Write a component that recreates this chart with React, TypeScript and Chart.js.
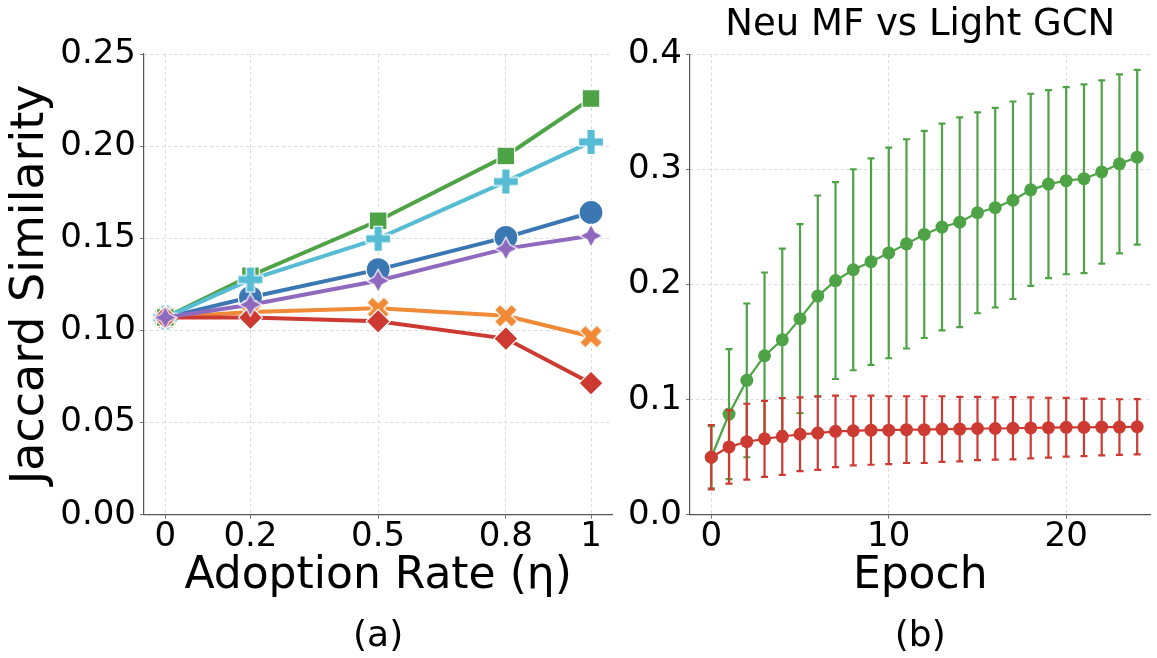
import React, { useEffect, useRef } from 'react';
import { Chart, registerables } from 'chart.js';

Chart.register(...registerables);

const FONT = "'DejaVu Sans', 'Liberation Sans', sans-serif";

// ---------------- Panel (a) data ----------------
const adoptionRates = [0, 0.2, 0.5, 0.8, 1];
const adoptionTickLabels = ['0', '0.2', '0.5', '0.8', '1'];
const seriesCircle = [0.107, 0.118, 0.133, 0.1505, 0.164];
const seriesX = [0.107, 0.11, 0.112, 0.108, 0.0967];
const seriesSquare = [0.107, 0.1297, 0.1595, 0.1947, 0.2258];
const seriesPlus = [0.107, 0.1276, 0.1498, 0.1808, 0.2023];
const seriesDiamond = [0.107, 0.107, 0.105, 0.0956, 0.0714];
const seriesStar = [0.107, 0.114, 0.127, 0.1444, 0.1514];
const leftYTicks = [0, 0.05, 0.1, 0.15, 0.2, 0.25];

// ---------------- Panel (b) data ----------------
const epochs = [0, 1, 2, 3, 4, 5, 6, 7, 8, 9, 10, 11, 12, 13, 14, 15, 16, 17, 18, 19, 20, 21, 22, 23, 24];
const greenMean = [0.05, 0.0875, 0.1168, 0.1382, 0.152, 0.1704, 0.19, 0.2035, 0.2129, 0.2199, 0.2275, 0.2354, 0.2436, 0.25, 0.2542, 0.2624, 0.2668, 0.2733, 0.2823, 0.2873, 0.2903, 0.292, 0.2979, 0.3049, 0.3107];
const greenErr = [0.027, 0.0565, 0.0668, 0.0723, 0.0793, 0.0821, 0.0874, 0.0855, 0.0873, 0.0897, 0.0915, 0.0909, 0.09, 0.0898, 0.0911, 0.0873, 0.0867, 0.0858, 0.0835, 0.0817, 0.0813, 0.082, 0.0796, 0.0777, 0.0759];
const redMean = [0.05, 0.059, 0.0635, 0.066, 0.068, 0.07, 0.071, 0.0725, 0.073, 0.0735, 0.0735, 0.074, 0.074, 0.0745, 0.0745, 0.075, 0.075, 0.0752, 0.0755, 0.0757, 0.076, 0.076, 0.0762, 0.0762, 0.0765];
const redErr = [0.028, 0.032, 0.033, 0.033, 0.0333, 0.032, 0.032, 0.031, 0.03, 0.03, 0.0295, 0.029, 0.029, 0.0285, 0.028, 0.0275, 0.027, 0.027, 0.0265, 0.026, 0.0255, 0.025, 0.0245, 0.0242, 0.024];
const rightXTicks = [0, 10, 20];
const rightYTicks = [0, 0.1, 0.2, 0.3, 0.4];

const C_BLUE = '#3b77b3';
const C_ORANGE = '#f08a37';
const C_GREEN = '#4ea346';
const C_CYAN = '#55bcd3';
const C_RED = '#cd3a32';
const C_PURPLE = '#8e69bd';

const GRID = '#d9d9d9';
const AXIS = '#555555';

function markerCanvas(size: number, color: string, pts: number[][], scale: number) {
  const c = document.createElement('canvas');
  c.width = size;
  c.height = size;
  const ctx = c.getContext('2d')!;
  ctx.translate(size / 2, size / 2);
  ctx.beginPath();
  pts.forEach(([x, y], i) => {
    if (i === 0) ctx.moveTo(x * scale, y * scale);
    else ctx.lineTo(x * scale, y * scale);
  });
  ctx.closePath();
  ctx.fillStyle = color;
  ctx.fill();
  ctx.strokeStyle = '#ffffff';
  ctx.lineWidth = 1.2;
  ctx.stroke();
  return c;
}

const X_PTS = [[-1, -2], [0, -1], [1, -2], [2, -1], [1, 0], [2, 1], [1, 2], [0, 1], [-1, 2], [-2, 1], [-1, 0], [-2, -1]];
const P_PTS = [[-1, -3], [1, -3], [1, -1], [3, -1], [3, 1], [1, 1], [1, 3], [-1, 3], [-1, 1], [-3, 1], [-3, -1], [-1, -1]];
function starPts() {
  const out: number[][] = [];
  for (let k = 0; k < 8; k++) {
    const a = -Math.PI / 2 + (k * Math.PI) / 4;
    const r = k % 2 === 0 ? 1 : 0.5;
    out.push([r * Math.cos(a), r * Math.sin(a)]);
  }
  return out;
}

const errorBarPlugin = {
  id: 'errorBars',
  beforeDatasetDraw(chart: any, args: any) {
    const ds = chart.data.datasets[args.index];
    const errs: number[] | undefined = ds.errors;
    if (!errs) return;
    const ctx = chart.ctx;
    const ys = chart.scales.y;
    ctx.save();
    ctx.strokeStyle = ds.borderColor;
    ctx.lineWidth = 2.2;
    args.meta.data.forEach((pt: any, i: number) => {
      const v = ds.data[i].y;
      const x = pt.x;
      const yTop = ys.getPixelForValue(v + errs[i]);
      const yBot = ys.getPixelForValue(v - errs[i]);
      ctx.beginPath();
      ctx.moveTo(x, yTop);
      ctx.lineTo(x, yBot);
      ctx.moveTo(x - 3.5, yTop);
      ctx.lineTo(x + 3.5, yTop);
      ctx.moveTo(x - 3.5, yBot);
      ctx.lineTo(x + 3.5, yBot);
      ctx.stroke();
    });
    ctx.restore();
  },
};

function setTicks(values: number[]) {
  return (scale: any) => {
    scale.ticks = values.map((v) => ({ value: v }));
  };
}

function commonX(min: number, max: number, ticks: number[], labels: (v: number) => string, title: string) {
  return {
    type: 'linear',
    min,
    max,
    afterBuildTicks: setTicks(ticks),
    afterFit: (s: any) => {
      s.height = 100;
      s.paddingLeft = 0;
      s.paddingRight = 0;
    },
    ticks: {
      callback: (v: number) => labels(v),
      font: { size: 34, lineHeight: 1 },
      color: '#000',
      padding: 1,
      maxRotation: 0,
      autoSkip: false,
    },
    grid: { color: GRID, lineWidth: 1, tickLength: 4, tickColor: '#777', drawTicks: true },
    border: { display: true, color: AXIS, width: 1.2, dash: [3, 3] },
    title: { display: true, text: title, font: { size: 44 }, color: '#000', padding: { top: 0, bottom: 11.6 } },
  };
}

function commonY(min: number, max: number, ticks: number[], digits: number, width: number, title?: string) {
  return {
    type: 'linear',
    min,
    max,
    afterBuildTicks: setTicks(ticks),
    afterFit: (s: any) => {
      s.width = width;
      s.paddingTop = 0;
      s.paddingBottom = 0;
    },
    ticks: {
      callback: (v: number) => v.toFixed(digits),
      font: { size: 34 },
      color: '#000',
      padding: 4,
      autoSkip: false,
    },
    grid: { color: GRID, lineWidth: 1, tickLength: 4, tickColor: '#777', drawTicks: true },
    border: { display: true, color: AXIS, width: 1.2, dash: [3, 3] },
    title: title
      ? { display: true, text: title, font: { size: 46 }, color: '#000', padding: { top: 3, bottom: 0 } }
      : { display: false },
  };
}

function ChartCanvas({ makeConfig, left, width, height }: { makeConfig: () => any; left: number; width: number; height: number }) {
  const ref = useRef<HTMLCanvasElement>(null);
  useEffect(() => {
    const chart = new Chart(ref.current!, makeConfig());
    return () => chart.destroy();
  }, []);
  return (
    <canvas
      ref={ref}
      width={width}
      height={height}
      style={{ position: 'absolute', left, top: 0, width, height }}
    />
  );
}

function leftConfig() {
  const pair = (vals: number[]) => adoptionRates.map((x, i) => ({ x, y: vals[i] }));
  const xImg = markerCanvas(30, C_ORANGE, X_PTS, 23 / 4);
  const pImg = markerCanvas(30, C_CYAN, P_PTS, 25 / 6);
  const sImg = markerCanvas(28, C_PURPLE, starPts(), 11.5);
  const base = { borderWidth: 4, clip: false, pointBorderColor: '#ffffff', pointBorderWidth: 1.2, tension: 0 };
  const sets = [
    { ...base, data: pair(seriesCircle), borderColor: C_BLUE, pointBackgroundColor: C_BLUE, pointStyle: 'circle', pointRadius: 12 },
    { ...base, data: pair(seriesX), borderColor: C_ORANGE, pointBackgroundColor: C_ORANGE, pointStyle: xImg, pointRadius: 12 },
    { ...base, data: pair(seriesSquare), borderColor: C_GREEN, pointBackgroundColor: C_GREEN, pointStyle: 'rect', pointRadius: 12.5 },
    { ...base, data: pair(seriesPlus), borderColor: C_CYAN, pointBackgroundColor: C_CYAN, pointStyle: pImg, pointRadius: 12 },
    { ...base, data: pair(seriesDiamond), borderColor: C_RED, pointBackgroundColor: C_RED, pointStyle: 'rectRot', pointRadius: 12 },
    { ...base, data: pair(seriesStar), borderColor: C_PURPLE, pointBackgroundColor: C_PURPLE, pointStyle: sImg, pointRadius: 12 },
  ].map((d, i, arr) => ({ ...d, order: arr.length - 1 - i }));
  return {
    type: 'line',
    data: { datasets: sets },
    options: {
      responsive: false,
      animation: false,
      devicePixelRatio: 1,
      layout: { padding: { top: 54, right: 6, left: 0, bottom: 0 } },
      scales: {
        x: commonX(-0.05, 1.05, adoptionRates, (v) => adoptionTickLabels[adoptionRates.indexOf(v)] ?? '', 'Adoption Rate (η)'),
        y: commonY(0, 0.25, leftYTicks, 2, 144, 'Jaccard Similarity'),
      },
      plugins: {
        legend: { display: false },
        tooltip: { enabled: false },
        title: {
          display: true,
          text: '(a)',
          position: 'bottom',
          fullSize: false,
          color: '#000',
          font: { size: 36, weight: 'normal' },
          padding: { top: 0, bottom: 0 },
        },
      },
    },
  };
}

function rightConfig() {
  const pair = (vals: number[]) => epochs.map((x, i) => ({ x, y: vals[i] }));
  const base = { borderWidth: 2.2, clip: false, pointRadius: 6.5, pointBorderWidth: 0, tension: 0, pointStyle: 'circle' };
  return {
    type: 'line',
    data: {
      datasets: [
        { ...base, data: pair(redMean), errors: redErr, borderColor: C_RED, pointBackgroundColor: C_RED, order: 0 },
        { ...base, data: pair(greenMean), errors: greenErr, borderColor: C_GREEN, pointBackgroundColor: C_GREEN, order: 1 },
      ],
    },
    plugins: [errorBarPlugin],
    options: {
      responsive: false,
      animation: false,
      devicePixelRatio: 1,
      layout: { padding: { top: 0, right: 0, left: 0, bottom: 0 } },
      scales: {
        x: commonX(-1.2, 24.75, rightXTicks, (v) => String(v), 'Epoch'),
        y: commonY(0, 0.4, rightYTicks, 1, 68),
      },
      plugins: {
        legend: { display: false },
        tooltip: { enabled: false },
        title: {
          display: true,
          text: 'Neu MF vs Light GCN',
          position: 'top',
          fullSize: false,
          color: '#000',
          font: { size: 37, weight: 'normal' },
          padding: { top: 3, bottom: 7 },
        },
        subtitle: {
          display: true,
          text: '(b)',
          position: 'bottom',
          fullSize: false,
          color: '#000',
          font: { size: 36, weight: 'normal' },
          padding: { top: 0, bottom: 0 },
        },
      },
    },
  };
}

export default function App() {
  Chart.defaults.font.family = FONT;
  Chart.defaults.color = '#000';
  return (
    <div style={{ position: 'fixed', left: 0, top: 0, width: 1157, height: 658, background: '#fff' }}>
      <ChartCanvas makeConfig={leftConfig} left={0} width={626} height={658} />
      <ChartCanvas makeConfig={rightConfig} left={622} width={535} height={658} />
    </div>
  );
}
